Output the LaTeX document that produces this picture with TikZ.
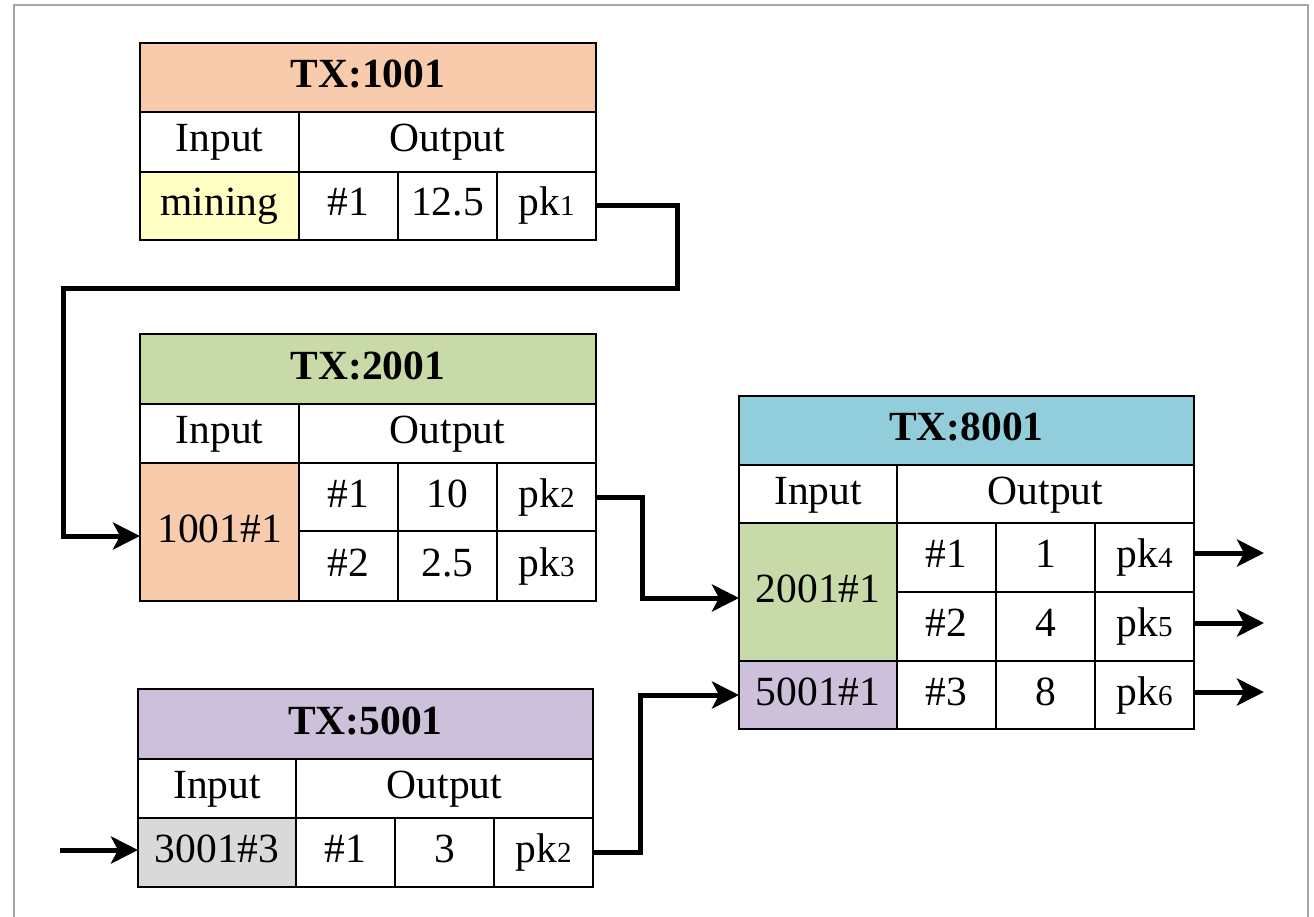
\documentclass[tikz,border=0pt]{standalone}
\usepackage{fontspec}
\setmainfont{Liberation Serif}
\usetikzlibrary{arrows.meta}

\definecolor{peach}{HTML}{F8CBAD}
\definecolor{paleyellow}{HTML}{FFFFC4}
\definecolor{olivelight}{HTML}{C8DAA8}
\definecolor{aqualight}{HTML}{92CDDC}
\definecolor{lilac}{HTML}{CCC0DA}
\definecolor{greycell}{HTML}{D9D9D9}
\definecolor{framegrey}{HTML}{A8A8A8}

\tikzset{
  cellbox/.style={draw=black, line width=2pt, inner sep=0pt, outer sep=0pt,
    text height=28pt, text depth=8pt, font=\fontsize{41.5}{48}\selectfont},
  titlebox/.style={cellbox, font=\fontsize{41.5}{48}\selectfont\bfseries},
  conn/.style={line width=5pt, -{Stealth[length=27pt,width=27pt,inset=7pt]}},
  framestyle/.style={draw=framegrey, line width=2pt}
}

% a rectangular cell: name, x1, y1, x2, y2, fill, style, text
\newcommand\tcell[8]{%
  \pgfmathsetmacro\cellw{#4-#2}%
  \pgfmathsetmacro\cellh{#5-#3}%
  \node[#7, fill=#6, minimum width=\cellw pt, minimum height=\cellh pt]
    (#1) at ({(#2+#4)/2},{(#3+#5)/2}) {#8};}

\newcommand\pk[1]{pk{\fontsize{29}{29}\selectfont #1}}

\begin{document}
\begin{tikzpicture}[x=1pt,y=-1pt]
\useasboundingbox (0,0) rectangle (1314,917);

% outer frame
\draw[framestyle] (14,925) -- (14,5) -- (1308,5) -- (1308,925);

% ---------- TX:1001 ----------
\tcell{t1}{140}{43}{596}{112}{peach}{titlebox}{TX:1001}
\tcell{h1i}{140}{112}{299}{172}{white}{cellbox}{Input}
\tcell{h1o}{299}{112}{596}{172}{white}{cellbox}{Output}
\tcell{i1}{140}{172}{299}{240}{paleyellow}{cellbox}{mining}
\tcell{n1}{299}{172}{398}{240}{white}{cellbox}{\#1}
\tcell{v1}{398}{172}{497}{240}{white}{cellbox}{12.5}
\tcell{k1}{497}{172}{596}{240}{white}{cellbox}{\pk{1}}

% ---------- TX:2001 ----------
\tcell{t2}{140}{334}{596}{404}{olivelight}{titlebox}{TX:2001}
\tcell{h2i}{140}{404}{299}{463}{white}{cellbox}{Input}
\tcell{h2o}{299}{404}{596}{463}{white}{cellbox}{Output}
\tcell{i2}{140}{463}{299}{601}{peach}{cellbox}{1001\#1}
\tcell{n2a}{299}{463}{398}{531}{white}{cellbox}{\#1}
\tcell{v2a}{398}{463}{497}{531}{white}{cellbox}{10}
\tcell{k2}{497}{463}{596}{531}{white}{cellbox}{\pk{2}}
\tcell{n2b}{299}{531}{398}{601}{white}{cellbox}{\#2}
\tcell{v2b}{398}{531}{497}{601}{white}{cellbox}{2.5}
\tcell{k3}{497}{531}{596}{601}{white}{cellbox}{\pk{3}}

% ---------- TX:5001 ----------
\tcell{t5}{138}{689}{593}{759}{lilac}{titlebox}{TX:5001}
\tcell{h5i}{138}{759}{296}{818}{white}{cellbox}{Input}
\tcell{h5o}{296}{759}{593}{818}{white}{cellbox}{Output}
\tcell{i5}{138}{818}{296}{887}{greycell}{cellbox}{3001\#3}
\tcell{n5}{296}{818}{395}{887}{white}{cellbox}{\#1}
\tcell{v5}{395}{818}{494}{887}{white}{cellbox}{3}
\tcell{k5}{494}{818}{593}{887}{white}{cellbox}{\pk{2}}

% ---------- TX:8001 ----------
\tcell{t8}{739}{396}{1194}{465}{aqualight}{titlebox}{TX:8001}
\tcell{h8i}{739}{465}{897}{523}{white}{cellbox}{Input}
\tcell{h8o}{897}{465}{1194}{523}{white}{cellbox}{Output}
\tcell{i8a}{739}{523}{897}{661}{olivelight}{cellbox}{2001\#1}
\tcell{i8b}{739}{661}{897}{729}{lilac}{cellbox}{5001\#1}
\tcell{n8a}{897}{523}{996}{592}{white}{cellbox}{\#1}
\tcell{v8a}{996}{523}{1095}{592}{white}{cellbox}{1}
\tcell{k8a}{1095}{523}{1194}{592}{white}{cellbox}{\pk{4}}
\tcell{n8b}{897}{592}{996}{661}{white}{cellbox}{\#2}
\tcell{v8b}{996}{592}{1095}{661}{white}{cellbox}{4}
\tcell{k8b}{1095}{592}{1194}{661}{white}{cellbox}{\pk{5}}
\tcell{n8c}{897}{661}{996}{729}{white}{cellbox}{\#3}
\tcell{v8c}{996}{661}{1095}{729}{white}{cellbox}{8}
\tcell{k8c}{1095}{661}{1194}{729}{white}{cellbox}{\pk{6}}

% ---------- connectors ----------
\coordinate (b1) at (677,289);
\coordinate (b2) at (63,289);
\coordinate (s5) at (60,850);
\coordinate (o1) at (1264,553);
\coordinate (o2) at (1264,623);
\coordinate (o3) at (1264,692);

\draw[conn] (k1.east) -| (b1) -- (b2) |- ([yshift=-4pt]i2.west);
\draw[conn] (k2.east) -- ++(46,0) |- ([yshift=-6pt]i8a.west);
\draw[conn] (k5.east) -- ++(47,0) |- (i8b.west);
\draw[conn] (s5) -- (s5 -| i5.west);
\draw[conn] (o1 -| k8a.east) -- (o1);
\draw[conn] (o2 -| k8b.east) -- (o2);
\draw[conn] (o3 -| k8c.east) -- (o3);
\end{tikzpicture}
\end{document}
